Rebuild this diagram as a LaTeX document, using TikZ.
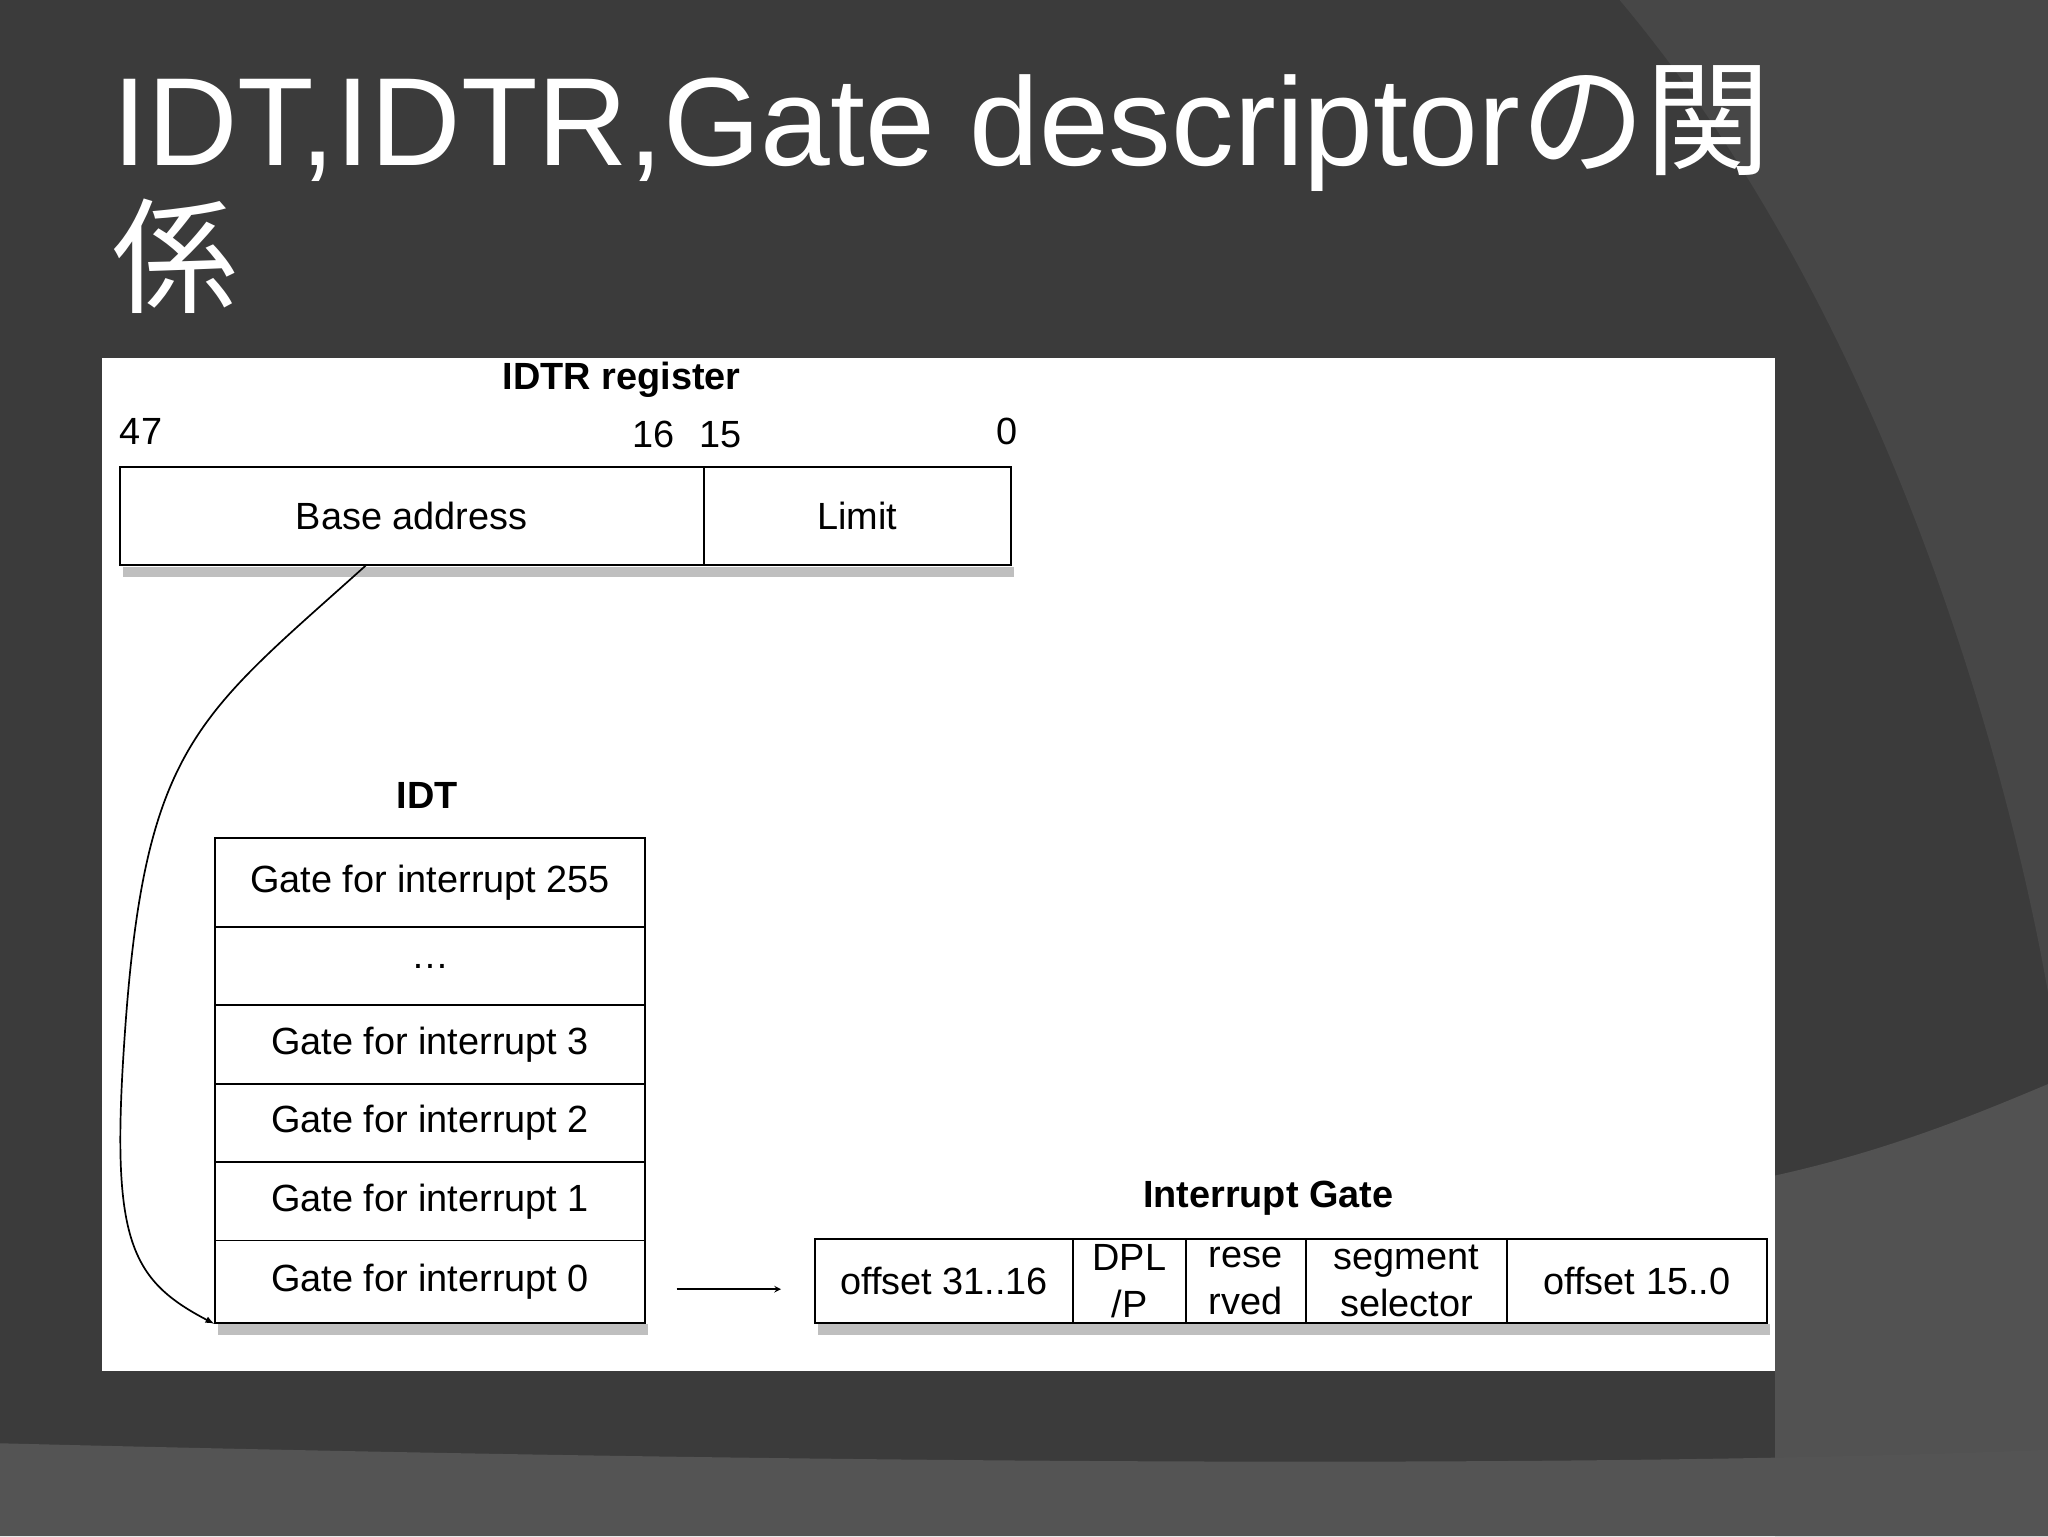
\documentclass[tikz,border=0pt]{standalone}
\usepackage{fontspec}
\setmainfont{Liberation Sans}
\newfontfamily\cjk{Noto Sans CJK JP}
\begin{document}
\begin{tikzpicture}[x=1pt,y=-1pt,
  cell/.style={draw=black,line width=1.5pt,fill=white,font=\fontsize{29}{31}\selectfont},
  lbl/.style={font=\fontsize{29}{31}\selectfont},
  blbl/.style={font=\bfseries\fontsize{29}{31}\selectfont}]
\useasboundingbox (0,0) rectangle (1568,1176);
\fill[black!77] (0,0) rectangle (1568,1176);
\fill[black!72] (1240,0) .. controls (1450,250) and (1540,600) .. (1568,760) -- (1568,0) -- cycle;
\fill[black!68] (1359,900) .. controls (1450,880) and (1520,850) .. (1568,830) -- (1568,1176) -- (1359,1176) -- cycle;
\fill[black!67] (0,1105) .. controls (600,1120) and (1200,1125) .. (1568,1110) -- (1568,1176) -- (0,1176) -- cycle;
\node[anchor=base west,text=white,font=\fontsize{96}{100}\selectfont,inner sep=0] (t1) at (86,127) {IDT,IDTR,Gate descriptor{\cjk の関}};
\node[anchor=base west,text=white,font=\cjk\fontsize{96}{100}\selectfont,inner sep=0] (t2) at (86,232) {係};
\fill[white] (78,274) rectangle (1359,1050);
% shadows
\fill[black!25] (94,434) rectangle (776,442);
\fill[black!25] (167,1014) rectangle (496,1022);
\fill[black!25] (626,1014) rectangle (1355,1022);
\node[blbl] (idtrl) at (476,291) {IDTR register};
\node[lbl] (n47) at (108,330) {47};
\node[lbl] (n16) at (500,333) {16};
\node[lbl] (n15) at (552,333) {15};
\node[lbl] (n0) at (771,330) {0};
\node[cell,minimum width=447,minimum height=75,anchor=north west] (base) at (91,357) {Base address};
\node[cell,minimum width=235,minimum height=75,anchor=north west] (limit) at (538,357) {Limit};
\node[blbl] (idtl) at (327,609) {IDT};
\foreach \n/\ya/\yb/\t in {a/641/709/Gate for interrupt 255,b/709/769/\dots,c/769/829/Gate for interrupt 3,d/829/889/Gate for interrupt 2,e/889/949/Gate for interrupt 1,f/949/1012/Gate for interrupt 0}{
  \node[cell,minimum width=329,minimum height={\yb-\ya},anchor=north west,inner sep=0] (r\n) at (164,\ya) {\t};
}
\node[blbl] (igl) at (971,917) {Interrupt Gate};
\foreach \n/\xa/\xb/\t in {g1/623/821/offset 31..16,g2/821/907/{DPL\\/P},g3/907/999/{rese\\rved},g4/999/1153/{segment\\selector},g5/1153/1352/offset 15..0}{
  \node[cell,minimum width={\xb-\xa},minimum height=64,anchor=north west,inner sep=0,align=center,font=\fontsize{29}{36}\selectfont] (\n) at (\xa,948) {\t};
}
\coordinate (s) at (280,433);
\draw[line width=1.3pt,-latex] (s) .. controls (150,550) and (110,570) .. (95,800) .. controls (85,950) and (100,980) .. (rf.south west);
\coordinate (a1) at (518,987);
\coordinate (a2) at (598,987);
\draw[line width=1.3pt,-stealth] (a1) -- (a2);
\end{tikzpicture}
\end{document}
